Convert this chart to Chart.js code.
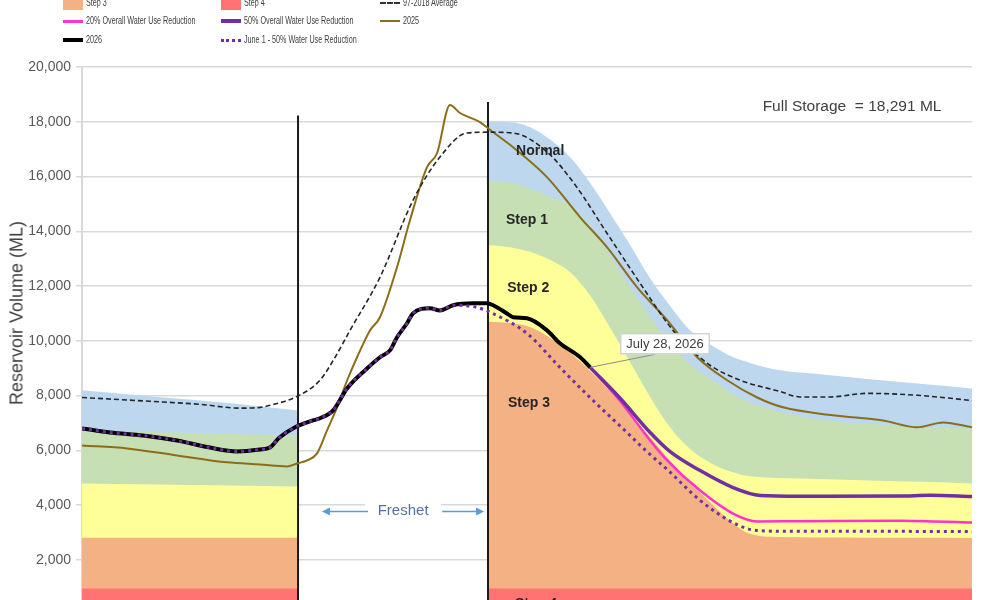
<!DOCTYPE html>
<html>
<head>
<meta charset="utf-8">
<script src="https://cdn.jsdelivr.net/npm/chart.js@4.4.1/dist/chart.umd.min.js"></script>
<style>
  html, body { margin: 0; padding: 0; background: #fff; width: 1000px; height: 600px; overflow: hidden; }
  #wrap { position: absolute; left: 0; top: 0; width: 1000px; height: 628px; }
  #legend { position: absolute; left: 0; top: 0; width: 1000px; height: 50px;
            font-family: "Liberation Sans", Arial, sans-serif; font-size: 11px; color: #404040; }
  .item { position: absolute; width: 150px; height: 0; }
  .sw { position: absolute; left: 0; width: 20px; }
  .lbl { position: absolute; left: 23px; top: -7px; line-height: 13px; white-space: nowrap;
         transform: scaleX(0.655); transform-origin: 0 50%; }
  #ytitle { position: absolute; left: 17px; top: 313px; transform: translate(-50%, -50%) rotate(-90deg);
            font: 18px "Liberation Sans", Arial, sans-serif; color: #404040; white-space: nowrap; }
</style>
</head>
<body>
<div id="wrap"><canvas id="chart" width="1000" height="628"></canvas></div>

<div id="legend">
  <div class="item" style="left:63px;top:3px"><div class="sw" style="top:-4px;height:11px;background:#F4B183"></div><span class="lbl">Step 3</span></div>
  <div class="item" style="left:221px;top:3px"><div class="sw" style="top:-4px;height:11px;background:#FF7373"></div><span class="lbl">Step 4</span></div>
  <div class="item" style="left:380px;top:3px"><div class="sw" style="top:-1px;border-top:2px dashed #333"></div><span class="lbl">97-2018 Average</span></div>

  <div class="item" style="left:63px;top:21px"><div class="sw" style="top:-1px;border-top:3px solid #FF33CC"></div><span class="lbl">20% Overall Water Use Reduction</span></div>
  <div class="item" style="left:221px;top:21px"><div class="sw" style="top:-2px;border-top:4px solid #7030A0"></div><span class="lbl">50% Overall Water Use Reduction</span></div>
  <div class="item" style="left:380px;top:21px"><div class="sw" style="top:-1px;border-top:2.5px solid #8B6D1A"></div><span class="lbl">2025</span></div>

  <div class="item" style="left:63px;top:40px"><div class="sw" style="top:-2px;border-top:4px solid #000"></div><span class="lbl">2026</span></div>
  <div class="item" style="left:221px;top:40px"><div class="sw" style="top:-1px;border-top:3px dotted #7030A0"></div><span class="lbl">June 1 - 50% Water Use Reduction</span></div>
</div>

<div id="ytitle">Reservoir Volume (ML)</div>

<script>
// ── Data (day of year, volume in ML) ──
const bandDays = [0, 30, 60, 88.6, 127, 166.5, 175.6, 183.8, 192.0, 200.2, 208.4, 216.6, 224.8,
                  233.0, 241.2, 249.4, 257.6, 265.8, 274.0, 286.3, 302.7, 323.2, 343.7, 365];
const normalTop = [8190, 7960, 7730, 7450, null, 18000, 17980, 17800, 17350, 16700, 15760, 14650, 13500,
                   12280, 11270, 10380, 9870, 9450, 9190, 8920, 8780, 8600, 8430, 8260];
const step1Top  = [6720, 6660, 6600, 6540, null, 15850, 15780, 15550, 15250, 14950, 14150, 13100, 11950,
                   10870, 9910, 9150, 8610, 8100, 7750, 7400, 7120, 6960, 6870, 6800];
const step2Top  = [4790, 4750, 4715, 4680, null, 13500, 13420, 13250, 12950, 12500, 11650, 10475, 9220,
                   7950, 6830, 6050, 5550, 5230, 5050, 4990, 4950, 4900, 4850, 4790];
const step3Top  = [2810, 2810, 2810, 2810, null, 10700, 10650, 10500, 10100, 9560, 8900, 8150, 7330,
                   6480, 5620, 4830, 4100, 3420, 2950, 2830, 2815, 2810, 2805, 2800];
const step4Top  = [950, 950, 950, 950, null, 950, 950, 950, 950, 950, 950, 950, 950,
                   950, 950, 950, 950, 950, 950, 950, 950, 950, 950, 950];

const days2026 = [0, 11.5, 25, 39, 52.5, 63.6, 73, 77, 81, 86.5, 94.7, 97.6, 103, 108.7, 116.9, 122.2,
                  126.3, 129.2, 133.3, 135.7, 142.7, 146.8, 152.2, 160.4, 166.1, 168.6, 174.3, 176.8,
                  182.5, 190.7, 196, 204.3, 208.4];
const vol2026  = [6800, 6650, 6540, 6360, 6100, 5960, 6030, 6100, 6470, 6800, 7090, 7170, 7460, 8260, 8990, 9400,
                  9650, 10130, 10640, 11000, 11190, 11110, 11300, 11370, 11370, 11300, 11000, 10860,
                  10820, 10380, 9910, 9400, 9030];

const daysJune50 = [0, 11.5, 25, 39, 52.5, 63.6, 73, 77, 81, 86.5, 94.7, 97.6, 103, 108.7, 116.9, 122.2,
                    126.3, 129.2, 133.3, 135.7, 142.7, 146.8, 152.2, 162, 167.4, 182.5, 196, 209.6,
                    223.5, 231.7, 240, 253.5, 267, 276.9, 294.5, 335.5, 365];
const volJune50  = [6800, 6650, 6540, 6360, 6100, 5960, 6030, 6100, 6470, 6800, 7090, 7170, 7460, 8260, 8990, 9400,
                    9650, 10130, 10640, 11000, 11190, 11110, 11300, 11220, 11040, 10270, 9030, 7820,
                    6650, 5950, 5300, 4170, 3360, 3070, 3040, 3040, 3030];

const days50 = [208.4, 220.7, 233, 241.2, 253.5, 267, 278.1, 294.5, 335.5, 347.8, 365];
const vol50  = [9030, 7900, 6650, 5950, 5260, 4640, 4350, 4320, 4330, 4360, 4310];

const days20 = [208.4, 220.7, 233, 240, 253.5, 267, 276.9, 294.5, 335.5, 365];
const vol20  = [9030, 7800, 6360, 5630, 4530, 3690, 3400, 3410, 3430, 3360];

const days2025 = [0, 18.5, 39, 59.5, 73, 84.1, 88.2, 92.3, 96.4, 100.5, 104.6, 108.7, 112.8, 118.1, 122.2,
                  129.2, 134.5, 141.5, 145.6, 150.9, 155, 163.2, 167.4, 176.8, 190.7, 204.3, 215.3,
                  227.6, 240, 252.3, 264.6, 276.9, 287.5, 308, 328.5, 342.5, 353.2, 365];
const vol2025  = [6180, 6070, 5810, 5560, 5480, 5410, 5520, 5630, 5890, 6730, 7570, 8550, 9400, 10380, 10860,
                  12690, 14400, 16340, 16850, 18610, 18320, 17990, 17700, 17070, 15980, 14510, 13420,
                  11960, 10750, 9400, 8560, 7930, 7570, 7280, 7090, 6840, 7020, 6840];

const daysAvg = [0, 27.9, 48.4, 64.8, 73, 80, 88.2, 97.6, 103.8, 109.9, 122.2, 135.8, 146.8, 157.9, 167.4,
                 176.8, 190.7, 202.2, 215.3, 228.9, 242.4, 256.4, 269.9, 286.3, 294.5, 306.8, 322, 342.5, 365];
const volAvg  = [7930, 7790, 7680, 7540, 7570, 7710, 7970, 8560, 9400, 10380, 12320, 15140, 16710, 17590, 17620,
                 17590, 16900, 15700, 13930, 12100, 10380, 9180, 8560, 8150, 7950, 7950, 8080, 8010, 7820];

const freshetDays = [88.6, 166.5];
const freshetTops = [18230, 18720];

const yTicks = { min: 0, max: 20000, step: 2000 };

// ── Helpers ──
const pts = (xs, ys) => xs.map((d, i) => ({ x: d, y: ys[i] }));
const FONT = '"Liberation Sans", Arial, sans-serif';

function band(label, vals, color) {
  return { label, data: pts(bandDays, vals), backgroundColor: color, borderWidth: 0, borderColor: color,
           fill: 'origin', pointRadius: 0, spanGaps: false, cubicInterpolationMode: 'monotone' };
}
function line(label, xs, ys, color, width, dash) {
  return { label, data: pts(xs, ys), borderColor: color, borderWidth: width, borderDash: dash || [],
           fill: false, pointRadius: 0, cubicInterpolationMode: 'monotone' };
}
function marker(i) {
  return { label: 'marker' + i, data: [{ x: freshetDays[i], y: 0 }, { x: freshetDays[i], y: freshetTops[i] }],
           borderColor: '#1a1a1a', borderWidth: 2, pointRadius: 0, fill: false, tension: 0 };
}

// dataset 0 is drawn on top
const datasets = [
  line('June 1 - 50% Water Use Reduction', daysJune50, volJune50, '#7030A0', 3, [3, 4]),
  line('2026', days2026, vol2026, '#000000', 4),
  line('50% Overall Water Use Reduction', days50, vol50, '#7030A0', 3.5),
  line('20% Overall Water Use Reduction', days20, vol20, '#FF33CC', 2.5),
  line('97-2018 Average', daysAvg, volAvg, '#262626', 1.6, [5, 3]),
  line('2025', days2025, vol2025, '#8B6D1A', 2),
  marker(0), marker(1),
  band('Step 4', step4Top, '#FF7373'),
  band('Step 3', step3Top, '#F4B183'),
  band('Step 2', step2Top, '#FFFF99'),
  band('Step 1', step1Top, '#C6E0B4'),
  band('Normal', normalTop, '#BDD7EE'),
];

// ── Text and callouts on the plot ──
const notes = {
  id: 'notes',
  afterDatasetsDraw(chart) {
    const { ctx, scales: { x, y } } = chart;
    const px = d => x.getPixelForValue(d), py = v => y.getPixelForValue(v);
    ctx.save();
    ctx.textAlign = 'center';
    ctx.textBaseline = 'middle';

    // zone names
    ctx.font = 'bold 14px ' + FONT;
    ctx.fillStyle = '#262626';
    [['Normal', 187.9, 16927], ['Step 1', 182.5, 14405], ['Step 2', 183, 11919],
     ['Step 3', 183.3, 7714], ['Step 4', 186.2, 366]].forEach(([t, d, v]) => ctx.fillText(t, px(d), py(v)));

    // full storage
    ctx.font = '15.5px ' + FONT;
    ctx.fillStyle = '#404040';
    ctx.fillText('Full Storage  = 18,291 ML', px(315.8), py(18536));

    // freshet
    const fy = py(3770), fx = px(131.7);
    ctx.fillStyle = '#fff';
    ctx.fillRect(fx - 38, fy - 11, 76, 22);
    ctx.font = '15px ' + FONT;
    ctx.fillStyle = '#56739F';
    ctx.fillText('Freshet', fx, fy - 1);
    ctx.strokeStyle = '#5B9BD5';
    ctx.fillStyle = '#5B9BD5';
    ctx.lineWidth = 1.5;
    [[117.3, 98.4], [147.7, 164.9]].forEach(([a, b]) => {
      const x0 = px(a), x1 = px(b), dir = Math.sign(x1 - x0);
      ctx.beginPath(); ctx.moveTo(x0, fy); ctx.lineTo(x1 - dir * 6, fy); ctx.stroke();
      ctx.beginPath(); ctx.moveTo(x1, fy); ctx.lineTo(x1 - dir * 8, fy - 4); ctx.lineTo(x1 - dir * 8, fy + 4);
      ctx.closePath(); ctx.fill();
    });

    // July 28 callout
    const last = days2026.length - 1;
    const ax = px(days2026[last]), ay = py(vol2026[last]);
    ctx.strokeStyle = '#8c8c8c';
    ctx.lineWidth = 1;
    ctx.beginPath(); ctx.moveTo(ax, ay); ctx.lineTo(px(235), py(9505)); ctx.stroke();
    const bx = px(239.1), by = py(9890);
    ctx.font = '13px ' + FONT;
    const w = ctx.measureText('July 28, 2026').width + 12;
    ctx.fillStyle = '#fff';
    ctx.fillRect(bx - w / 2, by - 10.5, w, 21);
    ctx.strokeStyle = '#bfbfbf';
    ctx.strokeRect(bx - w / 2 + 0.5, by - 10.5 + 0.5, w - 1, 20);
    ctx.fillStyle = '#404040';
    ctx.fillText('July 28, 2026', bx, by + 0.5);
    ctx.restore();
  }
};

new Chart(document.getElementById('chart'), {
  type: 'line',
  data: { datasets },
  options: {
    responsive: false,
    animation: false,
    layout: { padding: { top: 67, right: 28, bottom: 6, left: 0 } },
    plugins: { legend: { display: false }, tooltip: { enabled: false } },
    scales: {
      x: { type: 'linear', min: 0, max: 365, display: false },
      y: {
        min: yTicks.min, max: yTicks.max,
        afterFit: s => { s.width = 82; },
        ticks: { stepSize: yTicks.step, color: '#595959', padding: 5,
                 font: { family: FONT, size: 14 }, callback: v => v.toLocaleString('en-US') },
        grid: { color: '#d9d9d9', lineWidth: 1.5, tickLength: 6 },
        border: { color: '#d9d9d9', width: 2 }
      }
    }
  },
  plugins: [notes]
});
</script>
</body>
</html>
